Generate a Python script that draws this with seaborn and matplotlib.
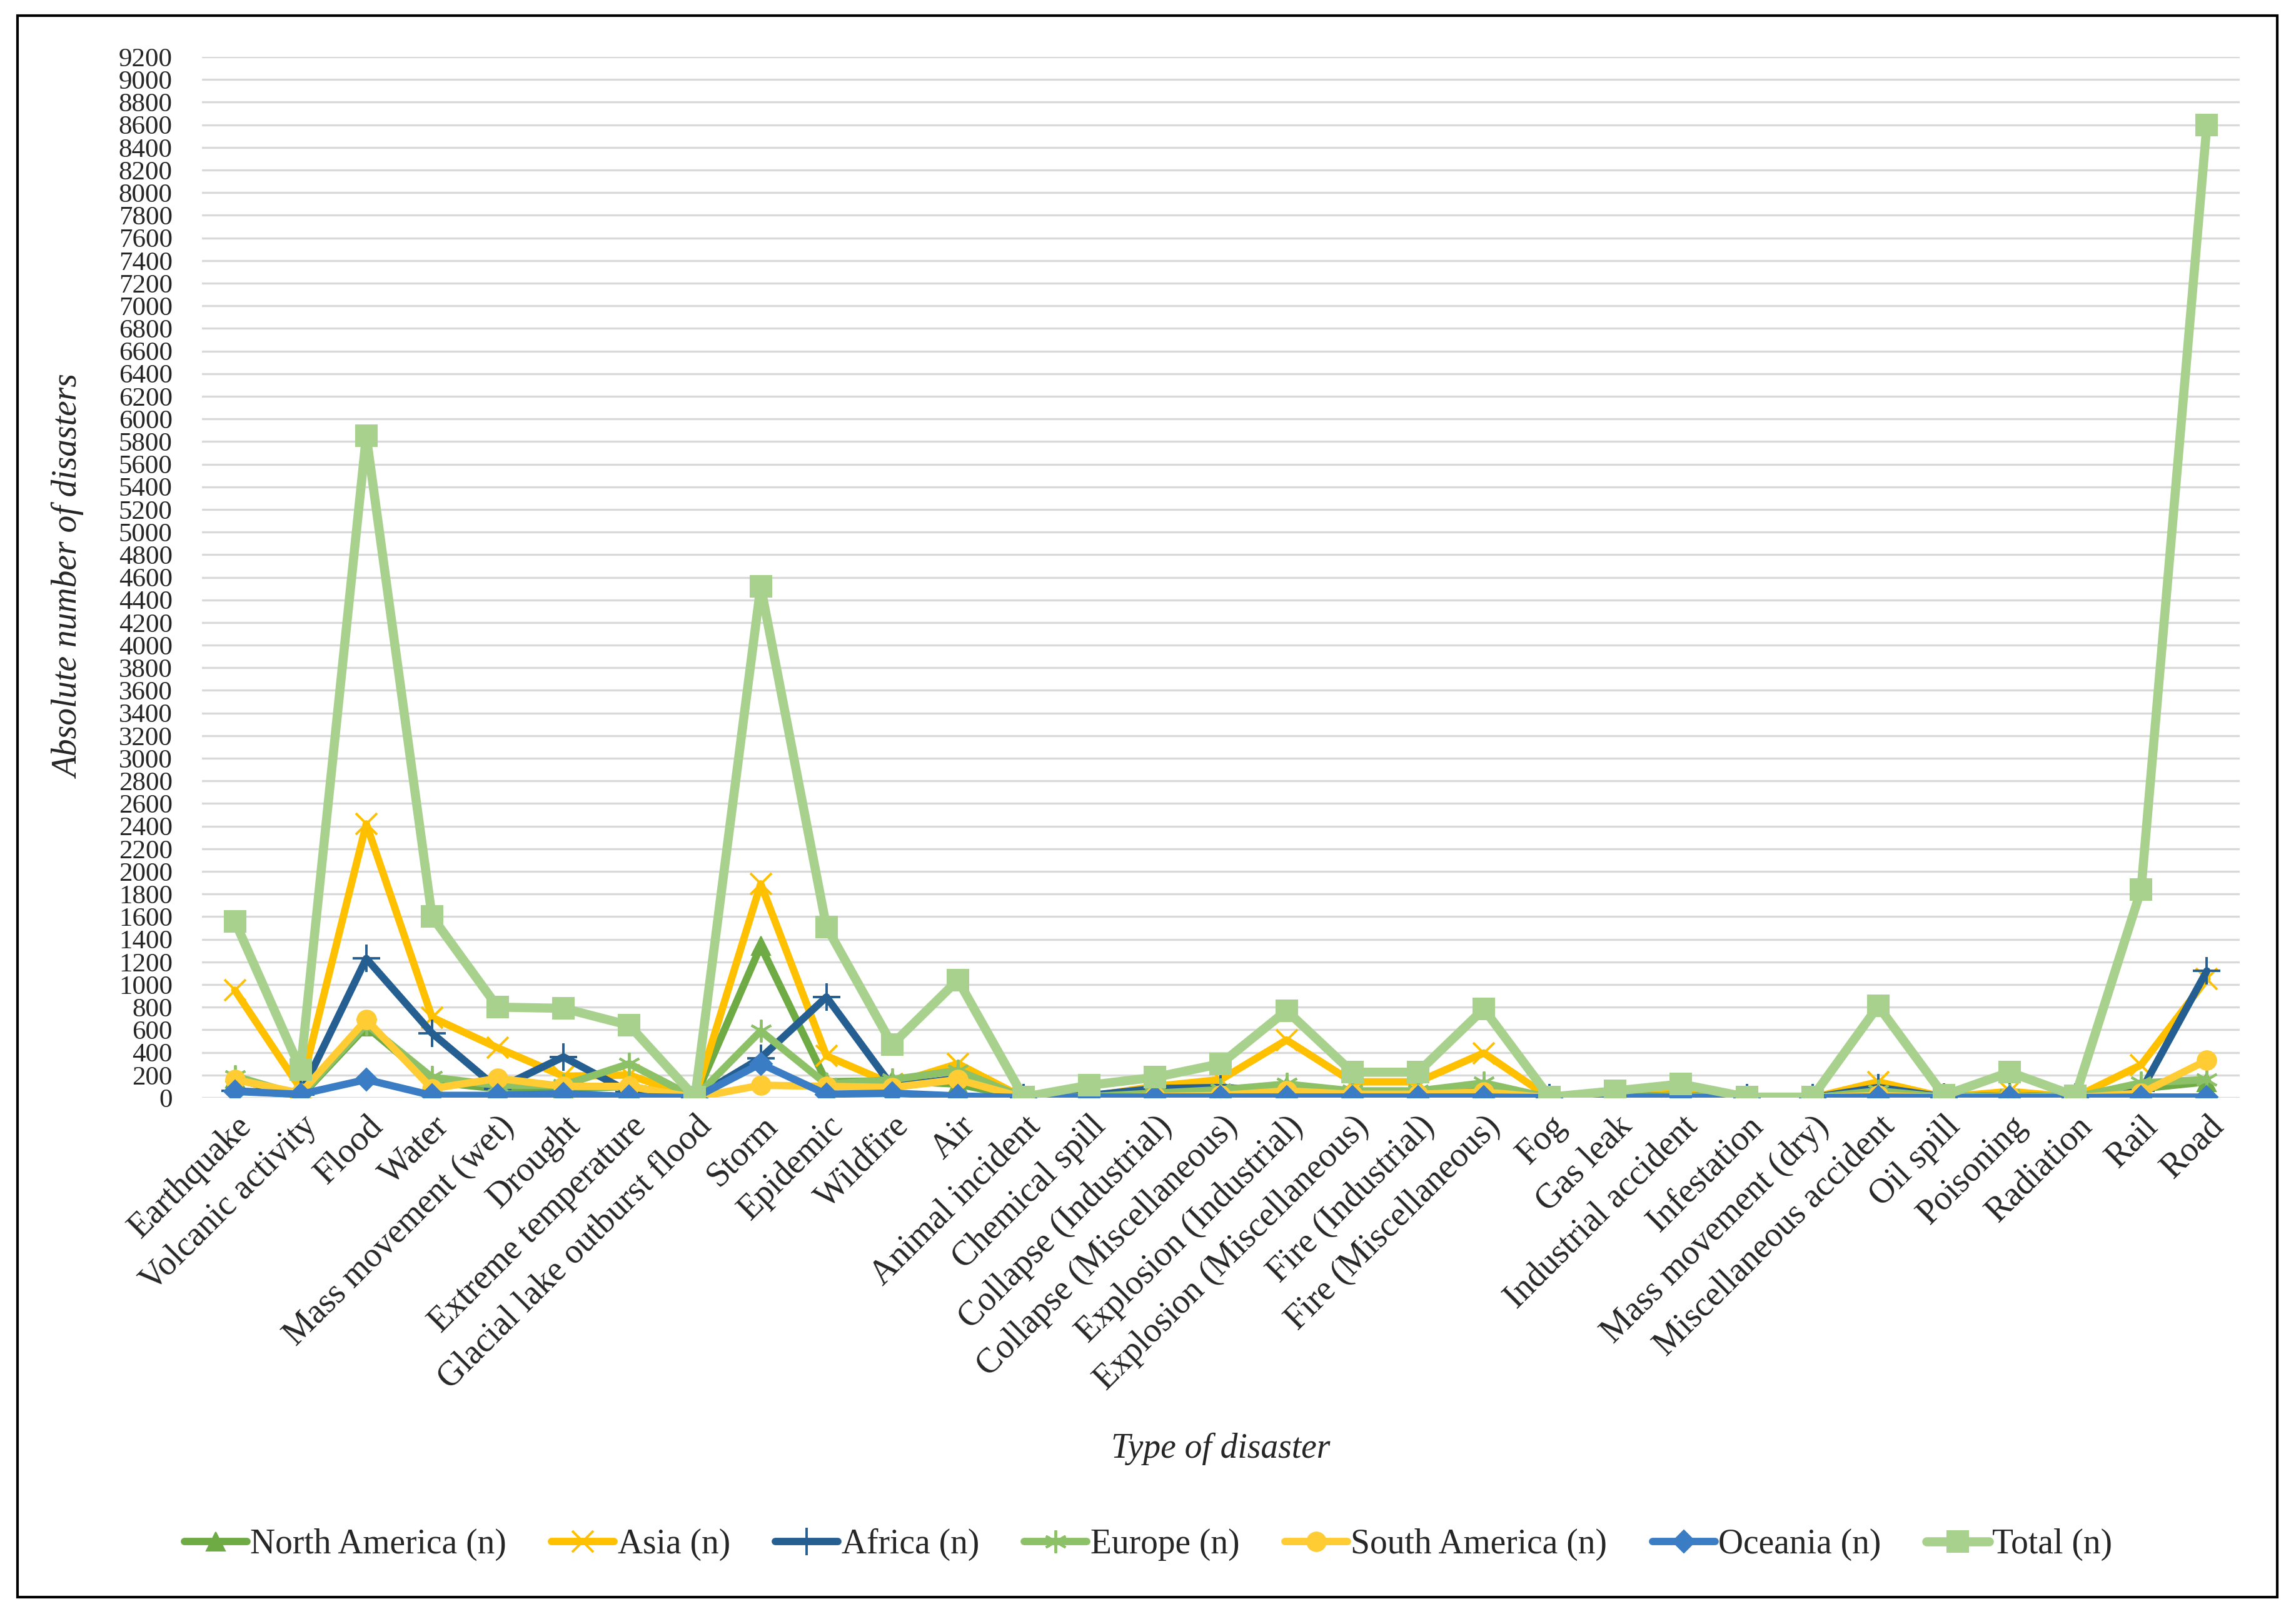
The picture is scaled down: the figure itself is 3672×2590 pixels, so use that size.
import numpy as np
import pandas as pd
import matplotlib
matplotlib.use("Agg")
import matplotlib.pyplot as plt
from matplotlib.patches import Rectangle
import seaborn as sns

categories = ["Earthquake", "Volcanic activity", "Flood", "Water", "Mass movement (wet)",
              "Drought", "Extreme temperature", "Glacial lake outburst flood", "Storm",
              "Epidemic", "Wildfire", "Air", "Animal incident", "Chemical spill",
              "Collapse (Industrial)", "Collapse (Miscellaneous)", "Explosion (Industrial)",
              "Explosion (Miscellaneous)", "Fire (Industrial)", "Fire (Miscellaneous)", "Fog",
              "Gas leak", "Industrial accident", "Infestation", "Mass movement (dry)",
              "Miscellaneous accident", "Oil spill", "Poisoning", "Radiation", "Rail", "Road"]

north_america = [170, 10, 630, 140, 80, 80, 100, 0, 1340, 140, 150, 120, 0, 10, 20, 40,
                 100, 40, 40, 90, 0, 10, 10, 0, 0, 40, 5, 10, 5, 80, 140]
asia = [950, 80, 2420, 710, 440, 190, 200, 0, 1890, 370, 120, 300, 0, 10, 100, 160,
        510, 140, 140, 395, 0, 15, 50, 0, 0, 140, 5, 55, 5, 290, 1050]
africa = [60, 30, 1230, 570, 80, 360, 50, 0, 350, 890, 100, 170, 0, 20, 80, 90,
          60, 30, 30, 40, 0, 10, 20, 0, 0, 90, 5, 20, 5, 60, 1120]
europe = [190, 20, 650, 180, 110, 110, 300, 0, 590, 120, 160, 240, 0, 10, 40, 70,
          120, 60, 60, 130, 0, 10, 20, 0, 0, 60, 5, 20, 5, 130, 160]
south_america = [160, 40, 690, 80, 170, 100, 100, 0, 110, 100, 90, 160, 0, 0, 10, 20,
                 60, 30, 30, 50, 0, 0, 10, 0, 0, 20, 0, 10, 0, 40, 330]
oceania = [55, 30, 160, 20, 20, 35, 10, 0, 300, 30, 40, 15, 0, 5, 5, 5,
           5, 5, 5, 5, 0, 5, 5, 0, 0, 5, 0, 5, 0, 5, 5]
total = [1560, 250, 5850, 1600, 800, 790, 640, 5, 4520, 1510, 470, 1040, 5, 110, 180, 300,
         770, 225, 225, 785, 5, 60, 120, 5, 5, 810, 20, 225, 15, 1840, 8600]

series_names = ["North America (n)", "Asia (n)", "Africa (n)", "Europe (n)",
                "South America (n)", "Oceania (n)", "Total (n)"]
series_values = [north_america, asia, africa, europe, south_america, oceania, total]
y_ticks = list(range(0, 9201, 200))

colors = ["#6EAB45", "#FFC000", "#255E91", "#8CC168", "#FFCC33", "#3A7DC4", "#A9D18E"]
markers = ["^", "x", "+", (6, 2, 0), "o", "D", "s"]
msizes = [22, 24, 32, 26, 22, 18, 25]
mews = [1.5, 2.8, 2.8, 2.8, 1.5, 1.5, 1.5]
lws = [8.5, 8.5, 8.5, 8.5, 8.5, 8.5, 10.5]

sns.set_theme(style="white")
plt.rcParams["font.family"] = ["Liberation Serif", "DejaVu Serif"]

W, H = 3673, 2590
fig = plt.figure(figsize=(W / 100, H / 100), dpi=100)
ax = fig.add_axes([323 / W, 1 - 1756 / H, (3582 - 323) / W, (1756 - 91) / H])

for i, (name, vals) in enumerate(zip(series_names, series_values)):
    df = pd.DataFrame({"type": categories, "n": vals})
    sns.lineplot(data=df, x="type", y="n", ax=ax, sort=False, errorbar=None,
                 color=colors[i], marker=markers[i], markersize=msizes[i],
                 markeredgewidth=mews[i], markeredgecolor=colors[i], markerfacecolor=colors[i],
                 linewidth=lws[i], label=name, zorder=3 + i,
                 solid_joinstyle="round", solid_capstyle="round")

ax.set_ylim(0, 9200)
ax.set_xlim(-0.5, len(categories) - 0.5)
ax.set_yticks(y_ticks)
ax.set_yticklabels([str(t) for t in y_ticks])
ax.yaxis.grid(True, color="#D9D9D9", linewidth=2.4, zorder=0)
ax.xaxis.grid(False)
ax.set_axisbelow(True)
for s in ax.spines.values():
    s.set_visible(False)
ax.tick_params(axis="y", length=0, pad=34, labelsize=31)
ax.tick_params(axis="x", length=0, pad=14, labelsize=40)
plt.setp(ax.get_xticklabels(), rotation=45, ha="right", rotation_mode="anchor")

ax.set_ylabel("Absolute number of disasters", fontsize=40, style="italic")
ax.set_xlabel("Type of disaster", fontsize=40, style="italic")
ax.yaxis.set_label_coords(-0.057, 0.5)
ax.xaxis.set_label_coords(0.5, -0.322)

handles, labels = ax.get_legend_handles_labels()
if ax.legend_:
    ax.legend_.remove()
fig.legend(handles, labels, loc="center", bbox_to_anchor=(0.5, 1 - 2471 / H),
           ncol=7, frameon=False, fontsize=40, handlelength=1.8, handletextpad=0.1,
           columnspacing=1.3)

fig.patches.append(Rectangle((28 / W, 1 - 2555 / H), (3642 - 28) / W, (2555 - 25) / H,
                             transform=fig.transFigure, fill=False, lw=3, ec="black"))

fig.savefig("out.png", dpi=100, facecolor="white")
